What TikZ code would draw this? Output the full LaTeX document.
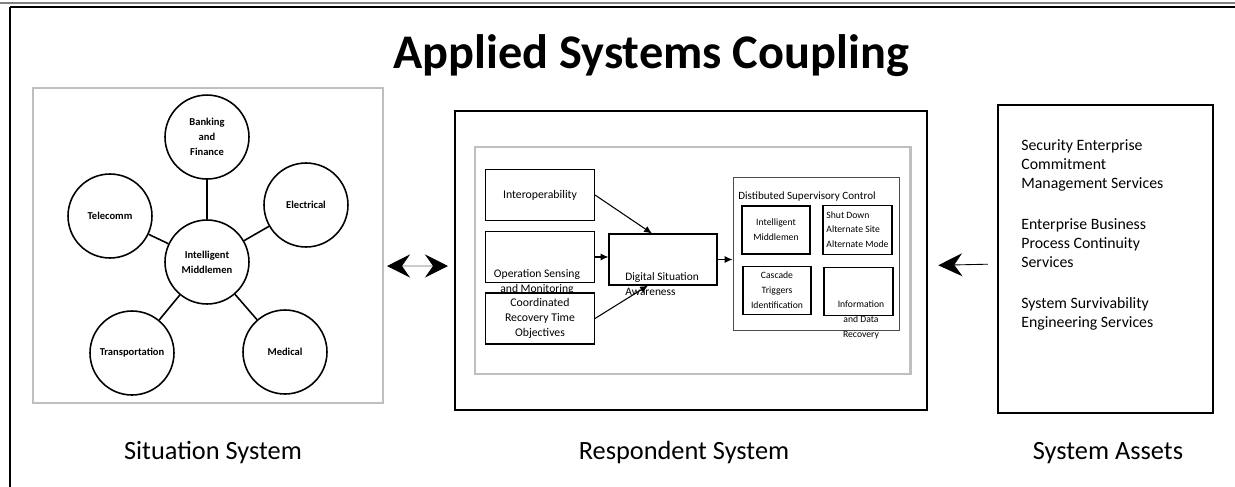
\documentclass[tikz,border=0pt]{standalone}
\usepackage{fontspec}
\setmainfont{Carlito}
\usetikzlibrary{arrows.meta,positioning}

\tikzset{
  hub/.style={circle, draw, line width=0.9pt, minimum size=1.68cm, inner sep=0pt,
    align=center, font=\fontsize{6}{8.5}\selectfont\bfseries},
  panel/.style={draw=black!25, line width=1.7pt},
  block/.style={draw, line width=0.6pt, minimum width=2.18cm, minimum height=1.02cm,
    inner sep=1pt, align=center, font=\fontsize{6.7}{8.3}\selectfont},
  subblock/.style={draw, line width=0.6pt, minimum width=1.36cm, minimum height=0.96cm,
    inner sep=1pt, align=center, font=\fontsize{5.5}{8.5}\selectfont},
  caption/.style={anchor=base, font=\fontsize{15}{18}\selectfont},
  bigtip/.style={-{Stealth[length=0.48cm,width=0.46cm,inset=0.16cm]}},
}

\begin{document}
\begin{tikzpicture}[x=0.02cm, y=-0.02cm, >={Latex[length=4.5pt,width=4pt]}]
    \useasboundingbox (0,0) rectangle (1235,487);

    % frame
    \draw[gray, line width=1.2pt] (0,2.7) -- (1235,2.7);
    \draw[line width=1.6pt] (10,7) -- (1235,7);
    \draw[line width=1.5pt] (10,7) -- (10,487);

    \node[font=\fontsize{27.5}{32}\selectfont\bfseries] (title) at (651,56) {Applied Systems Coupling};

    % situation system
    \draw[panel] (33,88) rectangle (383,403);
    \node[hub] (mid) at (207,262) {Intelligent\\Middlemen};
    \node[hub] (bank) [above of=mid, node distance=2.5cm] {Banking\\and\\Finance};
    \node[hub] (tele) at (110,216) {Telecomm};
    \node[hub] (elec) at (306,205) {Electrical};
    \node[hub] (trans) at (132,353) {Transportation};
    \node[hub] (med) at (285,352) {Medical};

    \path[line width=0.9pt] (mid) edge (bank);
    \path[line width=0.9pt] (mid) edge (tele);
    \path[line width=0.9pt] (mid) edge (elec);
    \path[line width=0.9pt] (mid) edge (trans);
    \path[line width=0.9pt] (mid) edge (med);

    % respondent system
    \node[draw, line width=1.5pt, minimum width=9.44cm, minimum height=5.98cm] (resp) at (691,260.5) {};
    \draw[panel] (475,147) rectangle (910,374);

    \node[block] (interop) at (540,195) {Interoperability};
    \node[block] (opsens) [below of=interop, node distance=1.24cm] {};
    \node[block] (coord) [below of=opsens, node distance=1.23cm] {Coordinated\\Recovery Time\\Objectives};
    \node[font=\fontsize{6.6}{8.6}\selectfont, align=center] (opsenstext) at (537,282) {Operation Sensing\\and Monitoring};

    \node[block, minimum width=2.16cm] (dsa) at (663,259.5) {};
    \node[font=\fontsize{6.5}{8.6}\selectfont, align=left, anchor=west, inner sep=0pt] (dsatext) at (625,284.5) {Digital Situation\\Awareness};

    \node[draw=black!70, line width=0.5pt, minimum width=3.32cm, minimum height=3.06cm] (dsc) at (816,253.5) {};
    \node[font=\fontsize{6.3}{7.5}\selectfont, anchor=west, inner sep=0pt] (dsctitle) at (738,197) {Distibuted Supervisory Control};
    \node[subblock] (im) at (776,230) {Intelligent\\Middlemen};
    \node[subblock, minimum width=1.38cm] (shut) at (857.5,230) {\begin{tabular}{@{}l@{}}Shut Down\\Alternate Site\\Alternate Mode\end{tabular}};
    \node[subblock] (casc) at (777,290.5) {Cascade\\Triggers\\Identification};
    \node[subblock, minimum width=1.38cm] (info) at (858.5,291.5) {};
    \node[font=\fontsize{5.5}{8.3}\selectfont, align=center] (infotext) at (861,320) {Information\\and Data\\Recovery};

    \path[->, line width=0.6pt] (interop.east) edge ([xshift=-0.22cm]dsa.north);
    \path[->, line width=0.6pt] (opsens.east) edge (opsens.east -| dsa.west);
    \path[->, line width=0.6pt] (coord.east) edge ([xshift=-0.3cm]dsa.south);
    \path[->, line width=0.6pt] (dsa.east) edge (dsa.east -| dsc.west);

    % system assets
    \node[draw, line width=1.2pt, minimum width=4.3cm, minimum height=6.16cm] (assets) at (1105.5,259) {};
    \node[font=\fontsize{9}{11}\selectfont, align=left, anchor=north west, inner sep=0pt] (assetstext) at (1021,139)
      {Security Enterprise\\Commitment\\Management Services\\[12pt]Enterprise Business\\Process Continuity\\Services\\[12pt]System Survivability\\Engineering Services};

    % couplings
    \coordinate (sitend) at (387,266);
    \coordinate (respend) at (448,266);
    \draw[black!20, line width=0.7pt, {Stealth[black,length=0.46cm,width=0.46cm,inset=0.16cm]}-{Stealth[black,length=0.46cm,width=0.46cm,inset=0.16cm]}] (sitend) -- (respend);
    \draw[bigtip, line width=0.5pt, shorten <=0.18cm, shorten >=0.2cm] ([yshift=-0.1cm]assets.west) -- ([yshift=-0.1cm]resp.east);

    % captions
    \node[caption] (sitcap) at (213,459) {Situation System};
    \node[caption] (respcap) at (684,459) {Respondent System};
    \node[caption] (assetcap) at (1108,459) {System Assets};
\end{tikzpicture}
\end{document}
